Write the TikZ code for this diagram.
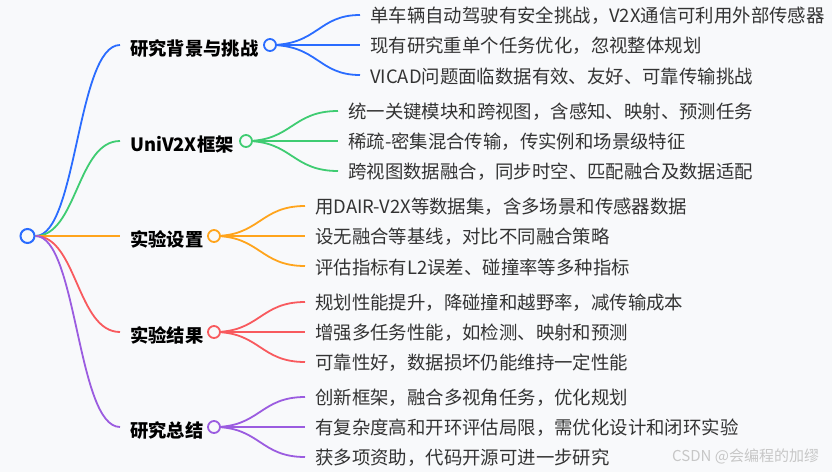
\documentclass[tikz,border=0pt]{standalone}
\usepackage{fontspec}
\setmainfont{Noto Sans CJK SC}
\definecolor{bgcol}{HTML}{F8F9FB}
\definecolor{cblue}{HTML}{2A6CFF}
\definecolor{cgreen}{HTML}{3FCC72}
\definecolor{corange}{HTML}{FFA41C}
\definecolor{cred}{HTML}{F85A5E}
\definecolor{cpurple}{HTML}{9B5CE0}
\definecolor{txtcol}{HTML}{333333}
\tikzset{
  link/.style={line width=1.8pt},
  dot/.style={circle, line width=1.8pt, fill=bgcol, minimum size=12pt, inner sep=0pt},
  title/.style={anchor=west, inner sep=0pt, text=black, font=\fontsize{18.3}{22}\selectfont\bfseries},
  leaf/.style={anchor=west, inner sep=0pt, text=txtcol, font=\fontsize{18.4}{22}\selectfont},
  wmark/.style={anchor=west, inner sep=0pt, text=black!22, font=\fontsize{15}{18}\selectfont}
}
\begin{document}
\begin{tikzpicture}[x=1pt,y=-1pt]
\useasboundingbox (0,0) rectangle (832,472);
\fill[bgcol] (0,0) rectangle (832,472);

% root
\node[dot, draw=cblue, minimum size=14pt, line width=2pt] (root) at (27.5,236) {};

% branch end points
\coordinate (e1) at (120,45);
\coordinate (e2) at (120,141);
\coordinate (e3) at (120,236);
\coordinate (e4) at (120,332);
\coordinate (e5) at (120,427);

% main branches
\draw[link, cblue]   (root.east) .. controls (77,236) and (77,45)  .. (e1);
\draw[link, cgreen]  (root.east) .. controls (77,236) and (77,141) .. (e2);
\draw[link, corange] (root.east) -- (e3);
\draw[link, cred]    (root.east) .. controls (77,236) and (77,332) .. (e4);
\draw[link, cpurple] (root.east) .. controls (77,236) and (77,427) .. (e5);

% titles
\node[title] (t1) at (130,48.5) {研究背景与挑战};
\node[title] (t2) at (130,144.5) {UniV2X框架};
\node[title] (t3) at (130,239.5) {实验设置};
\node[title] (t4) at (130,335.5) {实验结果};
\node[title] (t5) at (130,430.5) {研究总结};

% child end points
\coordinate (c11) at (360,15);  \coordinate (c12) at (360,45);  \coordinate (c13) at (360,75);
\coordinate (c21) at (338,111); \coordinate (c22) at (338,141); \coordinate (c23) at (338,171);
\coordinate (c31) at (305,206); \coordinate (c32) at (305,236); \coordinate (c33) at (305,266);
\coordinate (c41) at (305,302); \coordinate (c42) at (305,332); \coordinate (c43) at (305,362);
\coordinate (c51) at (305,397); \coordinate (c52) at (305,427); \coordinate (c53) at (305,457);

% branch circles (centres)
\coordinate (p1) at (270,45);
\coordinate (p2) at (246,141);
\coordinate (p3) at (214,236);
\coordinate (p4) at (214,332);
\coordinate (p5) at (214,427);

% child links
\draw[link, cblue] (p1) .. controls (318,45) and (318,15) .. (c11);
\draw[link, cblue] (p1) -- (c12);
\draw[link, cblue] (p1) .. controls (318,45) and (318,75) .. (c13);
\draw[link, cgreen] (p2) .. controls (292,141) and (292,111) .. (c21);
\draw[link, cgreen] (p2) -- (c22);
\draw[link, cgreen] (p2) .. controls (292,141) and (292,171) .. (c23);
\draw[link, corange] (p3) .. controls (260,236) and (260,206) .. (c31);
\draw[link, corange] (p3) -- (c32);
\draw[link, corange] (p3) .. controls (260,236) and (260,266) .. (c33);
\draw[link, cred] (p4) .. controls (260,332) and (260,302) .. (c41);
\draw[link, cred] (p4) -- (c42);
\draw[link, cred] (p4) .. controls (260,332) and (260,362) .. (c43);
\draw[link, cpurple] (p5) .. controls (260,427) and (260,397) .. (c51);
\draw[link, cpurple] (p5) -- (c52);
\draw[link, cpurple] (p5) .. controls (260,427) and (260,457) .. (c53);

% branch circles
\node[dot, draw=cblue]   (d1) at (p1) {};
\node[dot, draw=cgreen]  (d2) at (p2) {};
\node[dot, draw=corange] (d3) at (p3) {};
\node[dot, draw=cred]    (d4) at (p4) {};
\node[dot, draw=cpurple] (d5) at (p5) {};

% leaves
\node[leaf] (l11) at (370,16) {单车辆自动驾驶有安全挑战，V2X通信可利用外部传感器};
\node[leaf] (l12) at (370,46) {现有研究重单个任务优化，忽视整体规划};
\node[leaf] (l13) at (370,76) {VICAD问题面临数据有效、友好、可靠传输挑战};
\node[leaf] (l21) at (348,112) {统一关键模块和跨视图，含感知、映射、预测任务};
\node[leaf] (l22) at (348,142) {稀疏-密集混合传输，传实例和场景级特征};
\node[leaf] (l23) at (348,172) {跨视图数据融合，同步时空、匹配融合及数据适配};
\node[leaf] (l31) at (315,207) {用DAIR-V2X等数据集，含多场景和传感器数据};
\node[leaf] (l32) at (315,237) {设无融合等基线，对比不同融合策略};
\node[leaf] (l33) at (315,267) {评估指标有L2误差、碰撞率等多种指标};
\node[leaf] (l41) at (315,303) {规划性能提升，降碰撞和越野率，减传输成本};
\node[leaf] (l42) at (315,333) {增强多任务性能，如检测、映射和预测};
\node[leaf] (l43) at (315,363) {可靠性好，数据损坏仍能维持一定性能};
\node[leaf] (l51) at (315,398) {创新框架，融合多视角任务，优化规划};
\node[leaf] (l52) at (315,428) {有复杂度高和开环评估局限，需优化设计和闭环实验};
\node[leaf] (l53) at (315,458) {获多项资助，代码开源可进一步研究};

% watermark
\node[wmark] (wm) at (672,456) {CSDN @会编程的加缪};
\end{tikzpicture}
\end{document}
